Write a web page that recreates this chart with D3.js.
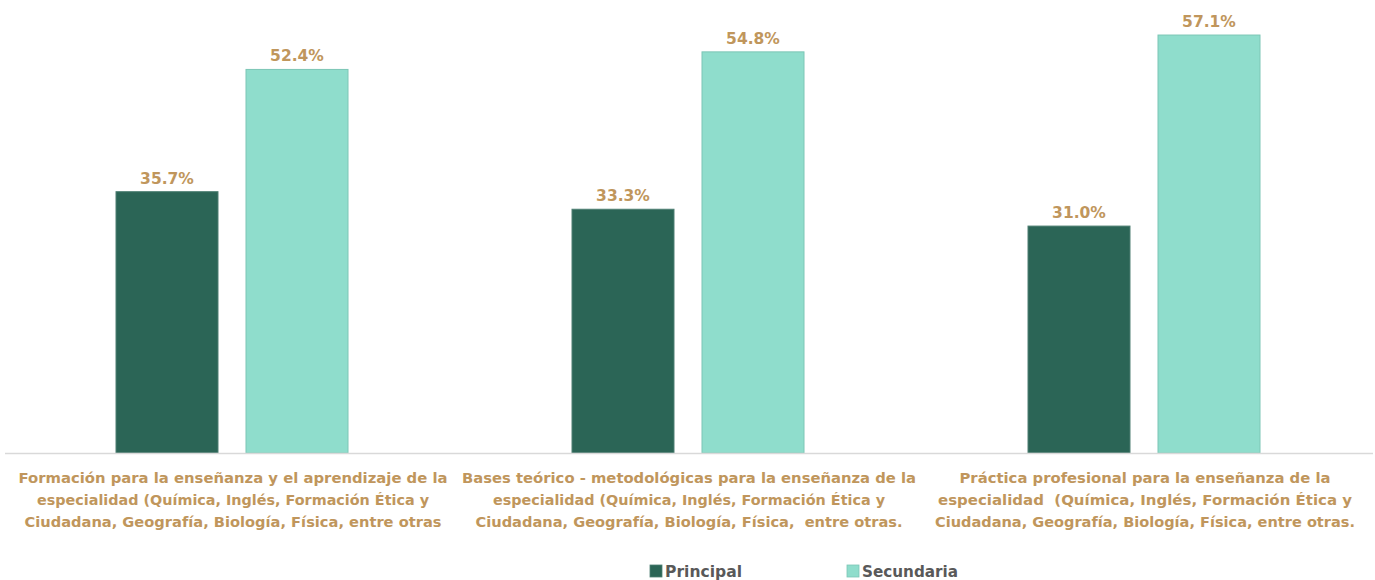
<!DOCTYPE html>
<html>
<head>
<meta charset="utf-8">
<script src="https://cdn.jsdelivr.net/npm/d3@7"></script>
<style>
  html, body { margin: 0; padding: 0; background: #fff; }
  svg { display: block; }
  text { white-space: pre; }
</style>
</head>
<body>
<svg id="chart" width="1375" height="580"></svg>
<script>
// Category labels (each wrapped into three lines)
const categories = [
  ["Formación para la enseñanza y el aprendizaje de la",
   "especialidad (Química, Inglés, Formación Ética y",
   "Ciudadana, Geografía, Biología, Física, entre otras"],
  ["Bases teórico - metodológicas para la enseñanza de la",
   "especialidad (Química, Inglés, Formación Ética y",
   "Ciudadana, Geografía, Biología, Física,  entre otras."],
  ["Práctica profesional para la enseñanza de la",
   "especialidad  (Química, Inglés, Formación Ética y",
   "Ciudadana, Geografía, Biología, Física, entre otras."]
];
const seriesNames = ["Principal", "Secundaria"];
const principal = [35.7, 33.3, 31.0];
const secundaria = [52.4, 54.8, 57.1];
const colors = ["#2B6556", "#8FDDCC"];
const strokes = ["#4E7F73", "#7CC6B6"];

const svg = d3.select("#chart");
const W = 1375;
const margin = { left: 5, right: 2, top: 14, bottom: 127 };
const baseY = 580 - margin.bottom;
const font = "'DejaVu Sans', sans-serif";

const x0 = d3.scaleBand()
  .domain(d3.range(categories.length))
  .range([margin.left, W - margin.right])
  .paddingInner(0).paddingOuter(0);

// bars sit inside each group, slightly left of centre
const x1 = d3.scaleBand()
  .domain(seriesNames)
  .range([111, 343])
  .paddingInner(0.2154)
  .paddingOuter(0);

const y = d3.scaleLinear().domain([0, 60]).range([baseY, baseY - 439.2]);

const rows = categories.map((c, i) => ({ i, vals: [principal[i], secundaria[i]] }));

const g = svg.append("g");
const grp = g.selectAll("g.grp").data(rows).join("g")
  .attr("class", "grp")
  .attr("transform", d => `translate(${x0(d.i)},0)`);

grp.selectAll("rect").data(d => d.vals.map((v, k) => ({ v, k })))
  .join("rect")
  .attr("x", d => x1(seriesNames[d.k]))
  .attr("width", x1.bandwidth())
  .attr("y", d => y(d.v))
  .attr("height", d => baseY - y(d.v))
  .attr("fill", d => colors[d.k])
  .attr("stroke", d => strokes[d.k])
  .attr("stroke-width", 1);

grp.selectAll("text.val").data(d => d.vals.map((v, k) => ({ v, k })))
  .join("text")
  .attr("class", "val")
  .attr("x", d => x1(seriesNames[d.k]) + x1.bandwidth() / 2)
  .attr("y", d => y(d.v) - 8)
  .attr("text-anchor", "middle")
  .attr("font-family", font)
  .attr("font-weight", "bold")
  .attr("font-size", 15.5)
  .attr("fill", "#C0965C")
  .text(d => d.v.toFixed(1) + "%");

// Baseline
g.append("line")
  .attr("x1", margin.left).attr("x2", W - margin.right)
  .attr("y1", baseY + 0.5).attr("y2", baseY + 0.5)
  .attr("stroke", "#D9D9D9").attr("stroke-width", 1.5);

// Category labels
const lineWidths = [
  [429, 392, 417],
  [454, 392, 427],
  [371, 414, 420]
];
const catG = g.selectAll("text.cat").data(rows).join("text")
  .attr("class", "cat")
  .attr("font-family", font)
  .attr("font-weight", "bold")
  .attr("font-size", 14)
  .attr("fill", "#C0965C")
  .attr("text-anchor", "middle");
catG.each(function(d) {
  const t = d3.select(this);
  const cx = x0(d.i) + x0.bandwidth() / 2;
  categories[d.i].forEach((line, j) => {
    t.append("tspan")
      .attr("x", cx)
      .attr("y", baseY + 30 + j * 22)
      .attr("textLength", lineWidths[d.i][j])
      .attr("lengthAdjust", "spacingAndGlyphs")
      .text(line);
  });
});

// Legend
const legend = svg.append("g");
const legendItems = [{ x: 650, w: 77 }, { x: 847, w: 96 }];
seriesNames.forEach((name, k) => {
  const it = legend.append("g").attr("transform", `translate(${legendItems[k].x},565)`);
  it.append("rect").attr("width", 12).attr("height", 12)
    .attr("fill", colors[k]).attr("stroke", strokes[k]).attr("stroke-width", 0.8);
  it.append("text")
    .attr("x", 15).attr("y", 11.5)
    .attr("font-family", font).attr("font-weight", "bold").attr("font-size", 15)
    .attr("fill", "#595959")
    .attr("textLength", legendItems[k].w)
    .attr("lengthAdjust", "spacingAndGlyphs")
    .text(name);
});
</script>
</body>
</html>
